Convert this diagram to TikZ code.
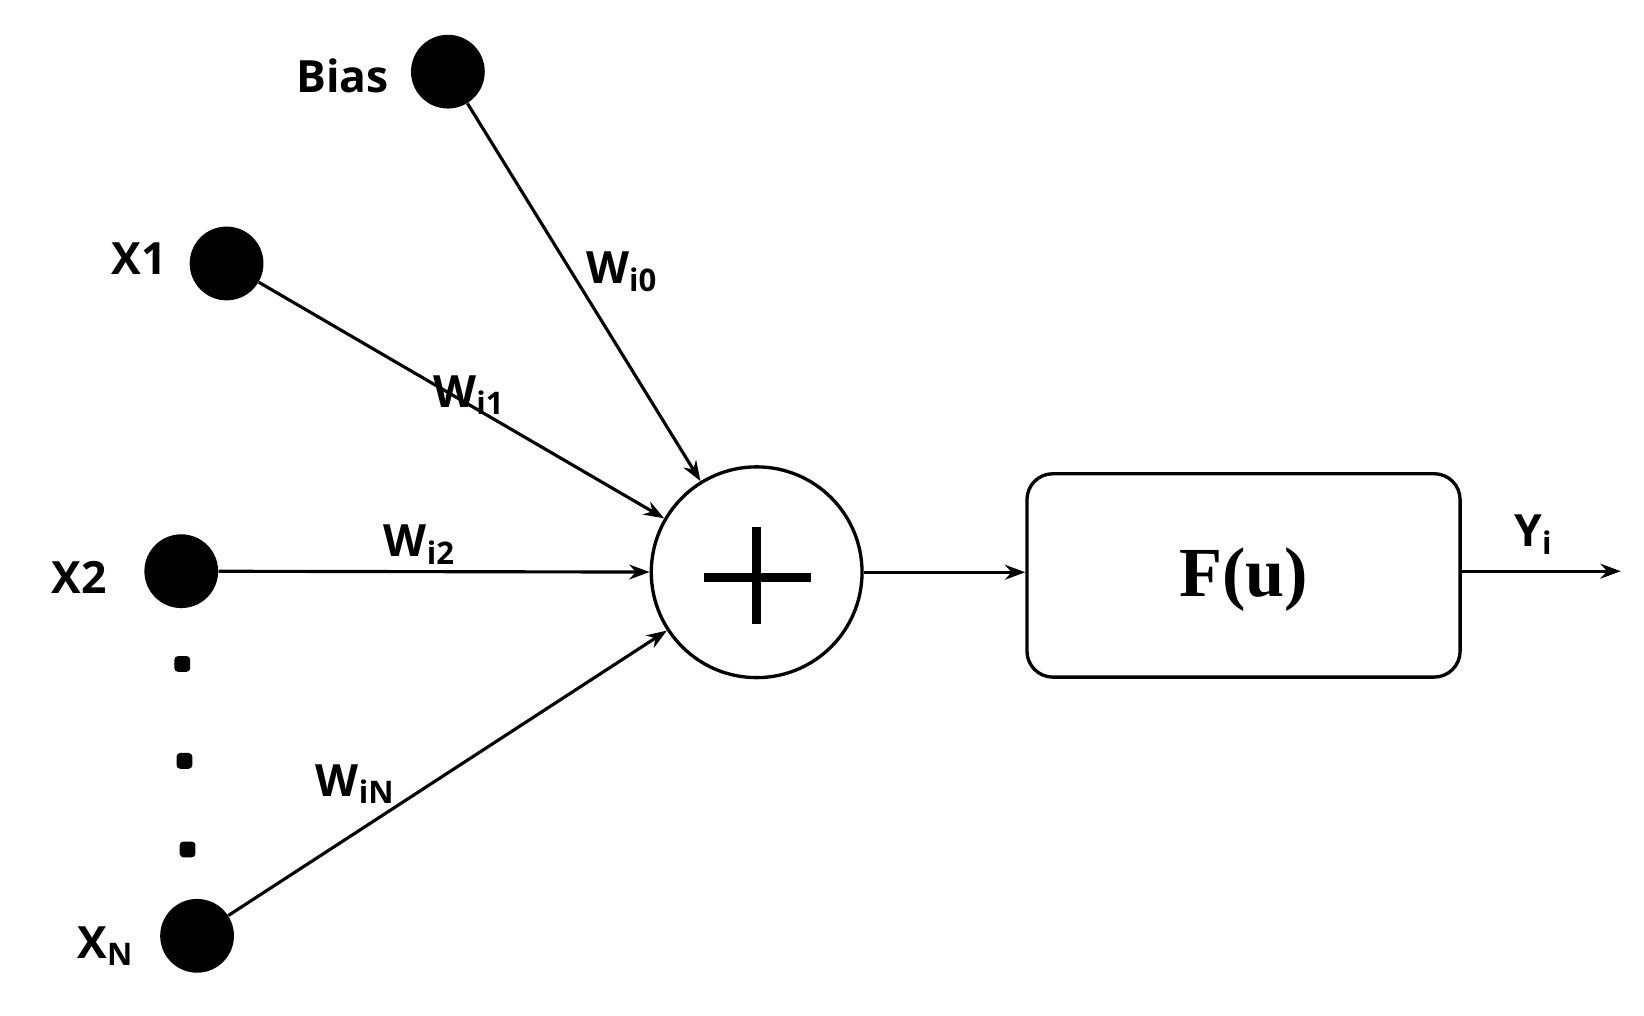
\documentclass[tikz,border=0pt]{standalone}
\usepackage{fontspec}
\setmainfont{Open Sans}
\newfontfamily\serifb{Liberation Serif}
\usetikzlibrary{arrows.meta}
\begin{document}
\begin{tikzpicture}[x=0.02cm,y=-0.02cm,
  inp/.style={circle,fill=black,minimum size=70*0.02cm,inner sep=0},
  dot/.style={rectangle,rounded corners=2pt,fill=black,minimum size=15*0.02cm,inner sep=0},
  lab/.style={font=\fontsize{24}{24}\selectfont\bfseries},
  conn/.style={line width=1.7pt,-{Stealth[length=11pt,width=8pt]}},
  sub/.style={font=\fontsize{16}{16}\selectfont\bfseries}]
\useasboundingbox (0,0) rectangle (1560,964);
\node[inp] (bias) at (425,68) {};
\node[inp] (x1) at (215,250) {};
\node[inp] (x2) at (172,542) {};
\node[inp] (xn) at (187,888) {};
\node[dot] (d1) at (173,630) {};
\node[dot] (d2) at (175,722) {};
\node[dot] (d3) at (178,806) {};
\node[lab] (lbias) at (325,72) {Bias};
\node[lab] (lx1) at (132,245) {X1};
\node[lab] (lx2) at (75,548) {X2};
\node[lab] (lxn) at (100,898) {X\textsubscript{N}};
\node[circle,draw,line width=1.8pt,minimum size=200*0.02cm,inner sep=0] (sum) at (718,543) {};
\draw[line width=5pt] (668,548) -- (770,548) (718,500) -- (718,592);
\node[draw,line width=1.8pt,rounded corners=14pt,minimum width=411*0.02cm,minimum height=193*0.02cm] (box) at (1180,546) {};
\node[font=\serifb\fontsize{38}{38}\selectfont\bfseries] (fu) at (1180,550) {F(u)};
\coordinate (out) at (1538,542);
\draw[conn] (bias) -- (sum);
\draw[conn] (x1) -- (sum);
\draw[conn] (x2) -- (sum);
\draw[conn] (xn) -- (sum);
\draw[conn] (sum.east) -- (box.west |- sum.east);
\draw[conn] (box.east |- out) -- (out);
\node[lab] (w0) at (590,258) {W\textsubscript{i0}};
\node[lab] (w1) at (445,375) {W\textsubscript{i1}};
\node[lab] (w2) at (398,517) {W\textsubscript{i2}};
\node[lab] (wn) at (337,744) {W\textsubscript{iN}};
\node[lab] (yi) at (1455,507) {Y\textsubscript{i}};
\end{tikzpicture}
\end{document}
